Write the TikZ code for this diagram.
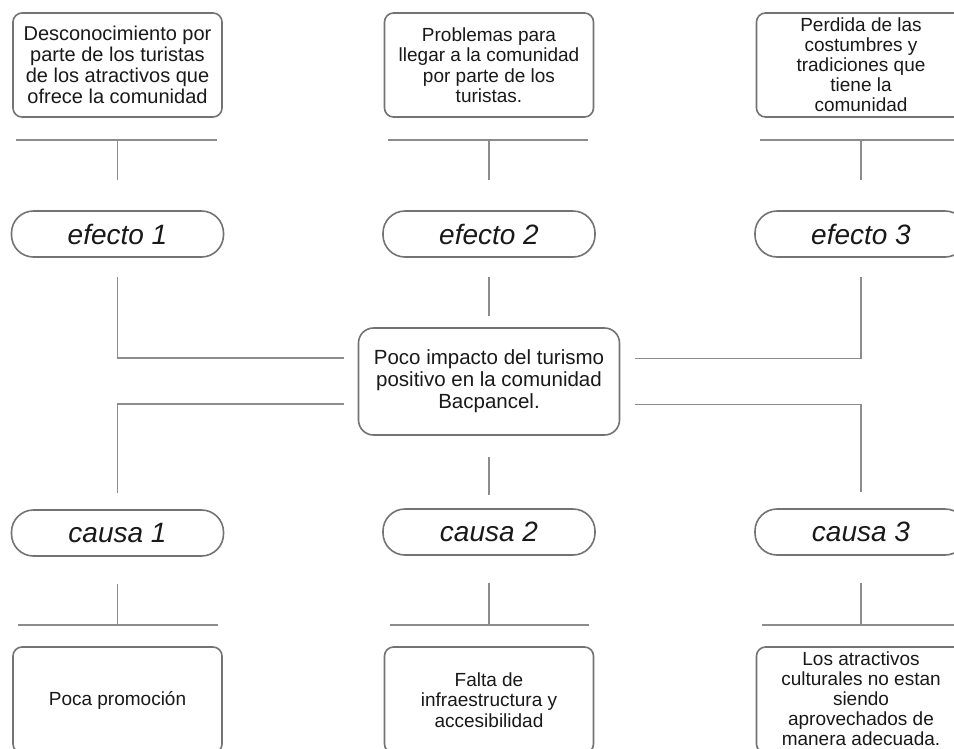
\documentclass[tikz,border=0pt]{standalone}
\usepackage{fontspec}
\setmainfont{Liberation Sans}
\usetikzlibrary{calc}

\begin{document}
\begin{tikzpicture}[x=1pt,y=-1pt,
  caja/.style={draw=black!55,line width=1.6pt,rounded corners=9pt,fill=white,
    minimum width=209pt,minimum height=104pt,align=center,inner sep=2pt,
    font=\fontsize{19}{20.5}\selectfont,text=black!90},
  pildora/.style={draw=black!55,line width=1.6pt,rounded corners=22pt,fill=white,
    minimum width=212pt,minimum height=46pt,inner sep=0pt,
    font=\fontsize{28}{30}\selectfont\itshape,text=black!90},
  linea/.style={black!45,line width=1.8pt}]

\useasboundingbox (0,0) rectangle (954,748);
\fill [white] (0,0) rectangle (954,748);
\clip (0,0) rectangle (954,748);

\node [caja,font=\fontsize{20}{21}\selectfont] (efTxt1) at (117.5,65) {Desconocimiento por\\parte de los turistas\\de los atractivos que\\ofrece la comunidad};
\node [caja] (efTxt2) at (489,65) {Problemas para\\llegar a la comunidad\\por parte de los\\turistas.};
\node [caja,font=\fontsize{19}{20}\selectfont] (efTxt3) at (861,65) {Perdida de las\\costumbres y\\tradiciones que\\tiene la\\comunidad};

\node [pildora] (efecto1) at (117.5,234) {efecto 1};
\node [pildora] (efecto2) at (489,234) {efecto 2};
\node [pildora] (efecto3) at (861,234) {efecto 3};

\node [caja,minimum width=261pt,minimum height=107pt,rounded corners=15pt,
  font=\fontsize{20.5}{22}\selectfont] (problema) at (489,381.5) {Poco impacto del turismo\\positivo en la comunidad\\Bacpancel.};

\node [pildora] (causa1) at (117.5,533) {causa 1};
\node [pildora] (causa2) at (489,532) {causa 2};
\node [pildora] (causa3) at (861,532) {causa 3};

\node [caja,minimum height=106pt] (caTxt1) at (117.5,700) {Poca promoción};
\node [caja,minimum height=106pt] (caTxt2) at (489,700) {Falta de\\infraestructura y\\accesibilidad};
\node [caja,minimum height=106pt,font=\fontsize{19}{20}\selectfont] (caTxt3) at (861,700) {};
\node [align=center,inner sep=0pt,font=\fontsize{19}{20}\selectfont,text=black!90] (caTxt3b) at (861,699) {Los atractivos\\culturales no estan\\siendo\\aprovechados de\\manera adecuada.};

\draw [linea] ($(efTxt1.south west)+(4,22)$) -- ($(efTxt1.south east)+(-6,22)$);
\draw [linea] ($(efTxt2.south west)+(4,22)$) -- ($(efTxt2.south east)+(-6,22)$);
\draw [linea] ($(efTxt3.south west)+(4,22)$) -- ($(efTxt3.south east)+(-6,22)$);
\draw [linea] ($(efTxt1.south)+(0,22)$) -- ($(efecto1.north)+(0,-30)$);
\draw [linea] ($(efTxt2.south)+(0,22)$) -- ($(efecto2.north)+(0,-30)$);
\draw [linea] ($(efTxt3.south)+(0,22)$) -- ($(efecto3.north)+(0,-30)$);

\draw [linea] ($(efecto1.south)+(0,19)$) |- ($(problema.west)+(-14,-23.5)$);
\draw [linea] ($(efecto2.south)+(0,19)$) -- ($(problema.north)+(0,-11)$);
\draw [linea] ($(efecto3.south)+(0,19)$) |- ($(problema.east)+(15,-23)$);

\draw [linea] ($(problema.west)+(-14,22.5)$) -| ($(causa1.north)+(0,-16)$);
\draw [linea] ($(problema.south)+(0,21)$) -- ($(causa2.north)+(0,-13)$);
\draw [linea] ($(problema.east)+(15,23)$) -| ($(causa3.north)+(0,-16)$);

\draw [linea] ($(causa1.south)+(0,27)$) -- ($(caTxt1.north)+(0,-21)$);
\draw [linea] ($(causa2.south)+(0,27)$) -- ($(caTxt2.north)+(0,-21)$);
\draw [linea] ($(causa3.south)+(0,27)$) -- ($(caTxt3.north)+(0,-21)$);
\draw [linea] ($(caTxt1.north west)+(6,-21)$) -- ($(caTxt1.north east)+(-5,-21)$);
\draw [linea] ($(caTxt2.north west)+(6,-21)$) -- ($(caTxt2.north east)+(-5,-21)$);
\draw [linea] ($(caTxt3.north west)+(6,-21)$) -- ($(caTxt3.north east)+(-5,-21)$);

\end{tikzpicture}
\end{document}
